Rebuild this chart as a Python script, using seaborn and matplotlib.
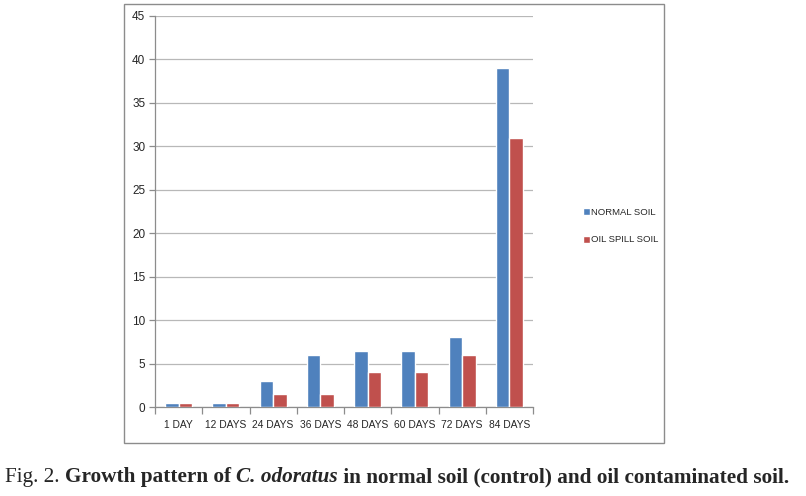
import numpy as np
import pandas as pd
import seaborn as sns
import matplotlib.pyplot as plt
from matplotlib.patches import Rectangle

# chart values
days = ['1 DAY', '12 DAYS', '24 DAYS', '36 DAYS', '48 DAYS', '60 DAYS', '72 DAYS', '84 DAYS']
normal_soil = [0.5, 0.5, 3, 6, 6.5, 6.5, 8, 39]
oil_spill_soil = [0.5, 0.5, 1.5, 1.5, 4, 4, 6, 31]
series = ['NORMAL SOIL', 'OIL SPILL SOIL']
colors = ['#4F81BD', '#C0504D']

df = pd.DataFrame({
    'day': days * 2,
    'value': normal_soil + oil_spill_soil,
    'soil': [series[0]] * len(days) + [series[1]] * len(days),
})

sns.set_style('white')
plt.rcParams['font.family'] = ['Liberation Sans', 'DejaVu Sans']

fig = plt.figure(figsize=(8.06, 4.96), dpi=100)
ax = fig.add_axes([155 / 806, 1 - 407 / 496, 378 / 806, 391 / 496])

# outer chart frame
fig.patches.append(Rectangle((124 / 806, 1 - 443 / 496), 540 / 806, 439 / 496,
                             transform=fig.transFigure, fill=False,
                             edgecolor='#8c8c8c', linewidth=1.0, zorder=0))

sns.barplot(data=df, x='day', y='value', hue='soil', palette=colors,
            width=0.57, saturation=1, ax=ax, zorder=3)

ax.set_ylim(0, 45)
ax.set_xlim(-0.5, len(days) - 0.5)
ax.set_yticks(np.arange(0, 46, 5))
ax.yaxis.grid(True, color='#b8b8b8', linewidth=0.9)
ax.set_axisbelow(True)
ax.set_xlabel('')
ax.set_ylabel('')

for s in ['top', 'right']:
    ax.spines[s].set_visible(False)
for s in ['left', 'bottom']:
    ax.spines[s].set_color('#8c8c8c')
    ax.spines[s].set_linewidth(0.9)

ax.tick_params(axis='y', left=True, length=4, width=0.9, color='#8c8c8c',
               labelsize=8.5, pad=3)
ax.tick_params(axis='x', which='major', length=0, labelsize=7.4, pad=9)
ax.set_xticks(np.arange(-0.5, len(days)), minor=True)
ax.tick_params(axis='x', which='minor', bottom=True, length=5, width=0.9, color='#8c8c8c')

leg = ax.legend(loc='center left', bbox_to_anchor=(574 / 806, 1 - 226 / 496),
                bbox_transform=fig.transFigure, frameon=False, fontsize=6.8,
                handlelength=0.75, handleheight=0.75, handletextpad=0.2,
                labelspacing=2.0)

# caption below the chart, mixed styles
cap_y = 1 - 482 / 496
size = 15.3
serif = ['Liberation Serif', 'DejaVu Serif']
t = fig.text(5 / 806, cap_y, 'Fig. 2. ', family=serif, fontsize=size, va='baseline')
for txt, w, st in [('Growth pattern of ', 'bold', 'normal'),
                   ('C. odoratus', 'bold', 'italic'),
                   (' in normal soil (control) and oil contaminated soil.', 'bold', 'normal')]:
    t = ax.annotate(txt, xy=(1, 0), xycoords=t, va='bottom', ha='left',
                    family=serif, fontsize=size, weight=w, style=st,
                    annotation_clip=False)

fig.savefig('out.png', dpi=100)
